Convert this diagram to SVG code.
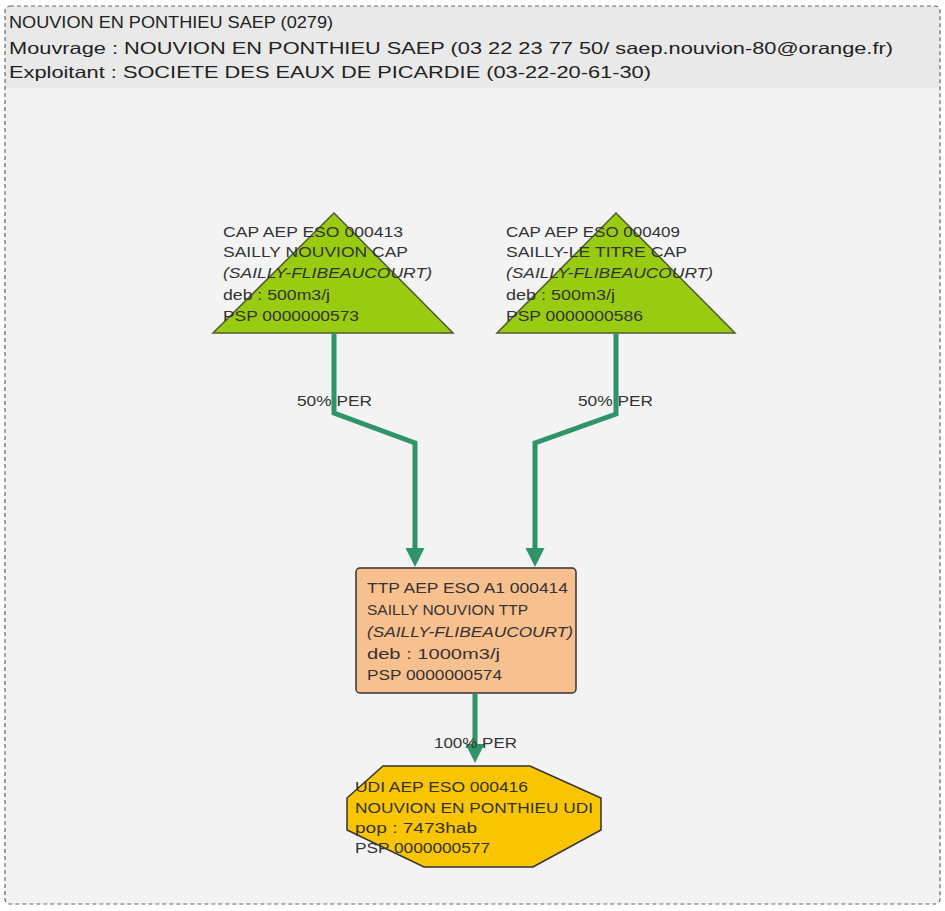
<svg xmlns="http://www.w3.org/2000/svg" width="945" height="911" viewBox="0 0 945 911">
<style>
text{font-family:"Liberation Sans",Arial,sans-serif;font-size:15.5px;fill:#333;}
.hd{font-size:16.5px;fill:#222;}
.it{font-style:italic;}
.con{fill:none;stroke:#2f9468;stroke-width:5;stroke-linejoin:miter;}
.tri{fill:#99cc11;stroke:#4f5a33;stroke-width:1.5;}
</style>
<defs>
<marker id="arr" markerUnits="userSpaceOnUse" markerWidth="20" markerHeight="20" refX="2" refY="9.5" orient="auto" viewBox="0 0 20 20">
<path d="M0,0 L19,9.5 L0,19 z" fill="#2f9468"/>
</marker>
</defs>
<rect x="0" y="0" width="945" height="911" fill="#ffffff"/>
<g id="frame">
<rect x="5" y="6" width="935" height="898" rx="5" fill="#f3f3f3"/>
<path d="M5,88 V11 Q5,6 10,6 H935 Q940,6 940,11 V88 Z" fill="#e9e9e9"/>
<rect x="5" y="6" width="935" height="898" rx="5" fill="none" stroke="#666" stroke-width="1.2" stroke-dasharray="4,3"/>
<text class="hd" x="9" y="28" textLength="324" lengthAdjust="spacingAndGlyphs">NOUVION EN PONTHIEU SAEP (0279)</text>
<text class="hd" x="9" y="54" textLength="884" lengthAdjust="spacingAndGlyphs">Mouvrage : NOUVION EN PONTHIEU SAEP (03 22 23 77 50/ saep.nouvion-80@orange.fr)</text>
<text class="hd" x="9" y="78" textLength="642" lengthAdjust="spacingAndGlyphs">Exploitant : SOCIETE DES EAUX DE PICARDIE (03-22-20-61-30)</text>
</g>
<g id="connectors">
<path class="con" d="M334,334 V413 L415,443 V550" marker-end="url(#arr)"/>
<path class="con" d="M616,334 V414 L535,443 V550" marker-end="url(#arr)"/>
<path class="con" d="M475,694 V746" marker-end="url(#arr)"/>
<text x="297" y="406" textLength="75" lengthAdjust="spacingAndGlyphs">50% PER</text>
<text x="578" y="406" textLength="75" lengthAdjust="spacingAndGlyphs">50% PER</text>
<text x="434" y="748" textLength="83" lengthAdjust="spacingAndGlyphs">100% PER</text>
</g>
<g id="cap413">
<polygon class="tri" points="334,213 453,333 213,333"/>
<text x="223" y="237" textLength="180" lengthAdjust="spacingAndGlyphs">CAP AEP ESO 000413</text>
<text x="223" y="257" textLength="185" lengthAdjust="spacingAndGlyphs">SAILLY NOUVION CAP</text>
<text class="it" x="223" y="278" textLength="209" lengthAdjust="spacingAndGlyphs">(SAILLY-FLIBEAUCOURT)</text>
<text x="223" y="300" textLength="107" lengthAdjust="spacingAndGlyphs">deb : 500m3/j</text>
<text x="223" y="321" textLength="136" lengthAdjust="spacingAndGlyphs">PSP 0000000573</text>
</g>
<g id="cap409">
<polygon class="tri" points="616,213 735,333 497,333"/>
<text x="506" y="237" textLength="174" lengthAdjust="spacingAndGlyphs">CAP AEP ESO 000409</text>
<text x="506" y="257" textLength="181" lengthAdjust="spacingAndGlyphs">SAILLY-LE TITRE CAP</text>
<text class="it" x="506" y="278" textLength="207" lengthAdjust="spacingAndGlyphs">(SAILLY-FLIBEAUCOURT)</text>
<text x="506" y="300" textLength="109" lengthAdjust="spacingAndGlyphs">deb : 500m3/j</text>
<text x="506" y="321" textLength="137" lengthAdjust="spacingAndGlyphs">PSP 0000000586</text>
</g>
<g id="ttp414">
<rect x="356" y="568" width="220" height="125" rx="4" fill="#f9c08f" stroke="#333" stroke-width="1.5"/>
<text x="367" y="593" textLength="201" lengthAdjust="spacingAndGlyphs">TTP AEP ESO A1 000414</text>
<text x="367" y="615" textLength="161" lengthAdjust="spacingAndGlyphs">SAILLY NOUVION TTP</text>
<text class="it" x="367" y="637" textLength="206" lengthAdjust="spacingAndGlyphs">(SAILLY-FLIBEAUCOURT)</text>
<text x="367" y="659" textLength="133" lengthAdjust="spacingAndGlyphs">deb : 1000m3/j</text>
<text x="367" y="680" textLength="135" lengthAdjust="spacingAndGlyphs">PSP 0000000574</text>
</g>
<g id="udi416">
<polygon points="383,766 530,766 601,798 601,830 533,867 424,867 347,830 347,798" fill="#f9c500" stroke="#333" stroke-width="1.5"/>
<text x="355" y="792" textLength="173" lengthAdjust="spacingAndGlyphs">UDI AEP ESO 000416</text>
<text x="355" y="813" textLength="238" lengthAdjust="spacingAndGlyphs">NOUVION EN PONTHIEU UDI</text>
<text x="355" y="833" textLength="122" lengthAdjust="spacingAndGlyphs">pop : 7473hab</text>
<text x="355" y="853" textLength="135" lengthAdjust="spacingAndGlyphs">PSP 0000000577</text>
</g>
</svg>
